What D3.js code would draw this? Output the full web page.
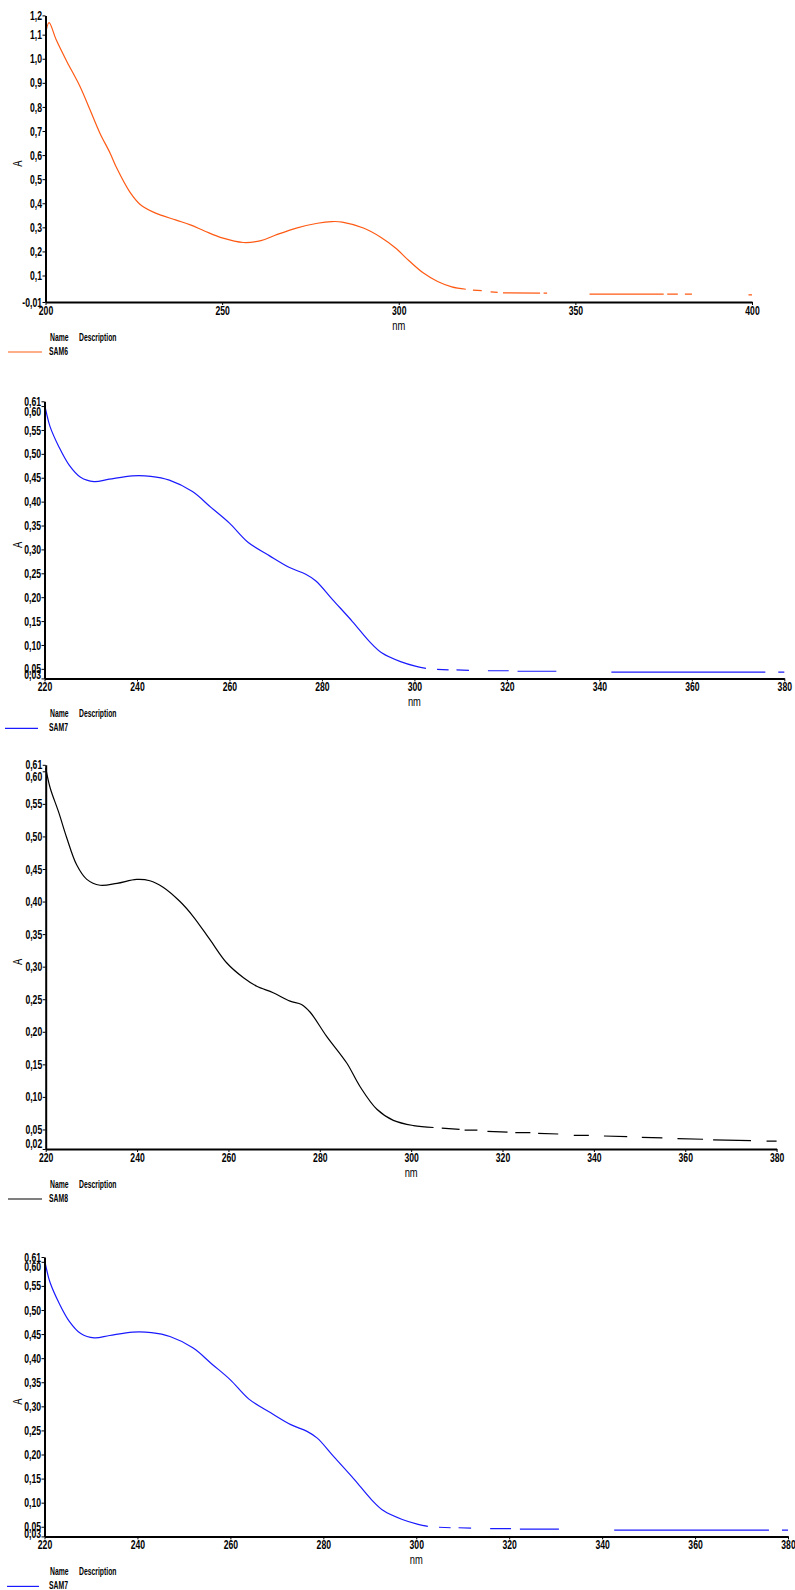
<!DOCTYPE html>
<html>
<head>
<meta charset="utf-8">
<script src="https://cdn.jsdelivr.net/npm/d3@7"></script>
<style>
  html, body { margin: 0; padding: 0; background: #fff; }
  svg { display: block; }
  text { font-family: 'Liberation Sans', Arial, sans-serif; fill: #000; }
</style>
</head>
<body>
<svg id="chart" width="795" height="1590"></svg>
<script>
// ---------- DATA ----------
// SAM6 (orange) wavelength (nm) and absorbance (A); null = gap in the trace
const sam6Nm = [200, 201, 203, 206, 209.8, 212.6, 215.4, 218.3, 220.2, 223.9, 226.8, 231, 237, 241, 245, 250, 256, 261, 265, 271, 277, 281, 284, 290, 295, 299, 303, 307, 311, 315, 319,
  320, 321, 323.5, 325, 326, 328, 329, 329.5, 340, 340.5, 341, 342, 348, 354, 375, 375.5, 376, 379, 380, 381, 383, 390, 399, 400];
const sam6A = [1.10, 1.15, 1.08, 0.99, 0.884, 0.788, 0.691, 0.608, 0.545, 0.446, 0.395, 0.36, 0.33, 0.31, 0.285, 0.256, 0.237, 0.245, 0.267, 0.297, 0.317, 0.324, 0.322, 0.297, 0.258, 0.215, 0.160, 0.110, 0.075, 0.053, 0.043,
  null, 0.039, 0.037, null, 0.032, 0.030, null, 0.028, 0.027, null, 0.027, 0.027, null, 0.023, 0.023, null, 0.023, 0.023, null, 0.023, 0.023, null, 0.020, 0.020];

// SAM7 (blue)
const sam7Nm = [220, 220.5, 221.2, 223.1, 225.3, 227.8, 230.7, 234, 239, 243, 247, 252, 256, 260, 264, 268.6, 273, 276.5, 278.7, 282.3, 286.6, 290.3, 293, 297, 300.4, 302.5,
  303.5, 304.9, 307.4, 308, 309.1, 311.8, 314, 315.9, 320.4, 321.5, 322.3, 330.7, 336, 342.6, 375.9, 377, 378.7, 380];
const sam7A = [0.605, 0.582, 0.557, 0.515, 0.477, 0.451, 0.442, 0.447, 0.454, 0.453, 0.445, 0.421, 0.388, 0.355, 0.315, 0.287, 0.262, 0.248, 0.234, 0.195, 0.149, 0.107, 0.083, 0.065, 0.055, 0.051,
  null, 0.049, 0.048, null, 0.048, 0.047, null, 0.046, 0.046, null, 0.045, 0.045, null, 0.043, 0.043, null, 0.043, 0.043];

// SAM8 (black)
const sam8Nm = [220, 221, 222.8, 224.6, 226.8, 229, 231.9, 235.6, 239.9, 242.8, 245.7, 249.4, 252.3, 256, 259.6, 263.3, 266.2, 269.8, 273.5, 276, 277.9, 281.5, 285.9, 288.8, 292.5, 296.1, 300.5, 304.9,
  306.2, 306.7, 310.6, 311.2, 311.7, 314.5, 315.5, 316.7, 321.1, 322, 322.8, 326.1, 327, 327.8, 332.2, 334, 335.6, 338.9, 340.5, 342.2, 347.3, 349, 350.5, 355, 356.5, 358.3, 363.9, 365, 366.1, 374.4, 376, 377.8, 380];
const sam8A = [0.605, 0.574, 0.538, 0.498, 0.456, 0.434, 0.425, 0.428, 0.434, 0.432, 0.422, 0.400, 0.377, 0.341, 0.306, 0.283, 0.270, 0.260, 0.247, 0.242, 0.230, 0.193, 0.152, 0.116, 0.081, 0.064, 0.056, 0.053,
  null, 0.052, 0.050, null, 0.049, 0.049, null, 0.047, 0.046, null, 0.045, 0.045, null, 0.044, 0.043, null, 0.041, 0.041, null, 0.040, 0.039, null, 0.038, 0.037, null, 0.036, 0.035, null, 0.034, 0.033, null, 0.032, 0.032];

// Tick values and labels
const xTicksA = [200, 250, 300, 350, 400];
const xTicksB = [220, 240, 260, 280, 300, 320, 340, 360, 380];
const yTicksA = [-0.01, 0.1, 0.2, 0.3, 0.4, 0.5, 0.6, 0.7, 0.8, 0.9, 1.0, 1.1, 1.18];
const yLabelsA = ["-0,01", "0,1", "0,2", "0,3", "0,4", "0,5", "0,6", "0,7", "0,8", "0,9", "1,0", "1,1", "1,2"];
const yTicksB = [0.03, 0.05, 0.10, 0.15, 0.20, 0.25, 0.30, 0.35, 0.40, 0.45, 0.50, 0.55, 0.60, 0.61];
const yLabelsB = ["0,03", "0,05", "0,10", "0,15", "0,20", "0,25", "0,30", "0,35", "0,40", "0,45", "0,50", "0,55", "0,60", "0,61"];
const yTicksC = [0.02, 0.05, 0.10, 0.15, 0.20, 0.25, 0.30, 0.35, 0.40, 0.45, 0.50, 0.55, 0.60, 0.61];
const yLabelsC = ["0,02", "0,05", "0,10", "0,15", "0,20", "0,25", "0,30", "0,35", "0,40", "0,45", "0,50", "0,55", "0,60", "0,61"];

// ---------- LAYOUT ----------
const panels = [
  { nm: sam6Nm, a: sam6A, name: "SAM6", color: "#ff5a14", xDomain: [200, 400], xTicks: xTicksA,
    yDomain: [-0.01, 1.18], yTicks: yTicksA, yLabels: yLabelsA,
    left: 45.5, right: 752, top: 15.4, bottom: 302, nudgeTop2: 0, nudgeBottom: 0, legendX0: 8, legendX1: 42 },
  { nm: sam7Nm, a: sam7A, name: "SAM7", color: "#1a1aff", xDomain: [220, 380], xTicks: xTicksB,
    yDomain: [0.03, 0.61], yTicks: yTicksB, yLabels: yLabelsB,
    left: 44.5, right: 784.3, top: 401.3, bottom: 678.4, nudgeTop2: 5, nudgeBottom: -4, legendX0: 5, legendX1: 38 },
  { nm: sam8Nm, a: sam8A, name: "SAM8", color: "#000000", xDomain: [220, 380], xTicks: xTicksB,
    yDomain: [0.02, 0.61], yTicks: yTicksC, yLabels: yLabelsC,
    left: 45.7, right: 776.6, top: 764.8, bottom: 1149, nudgeTop2: 5, nudgeBottom: -6, legendX0: 8, legendX1: 42 },
  { nm: sam7Nm, a: sam7A, name: "SAM7", color: "#1a1aff", xDomain: [220, 380], xTicks: xTicksB,
    yDomain: [0.03, 0.61], yTicks: yTicksB, yLabels: yLabelsB,
    left: 44.5, right: 788, top: 1257, bottom: 1536.4, nudgeTop2: 5, nudgeBottom: -3, legendX0: 7, legendX1: 39 }
];

const svg = d3.select("#chart");
const fs = 12;        // tick font size
const sq = 0.72;      // horizontal squeeze for the narrow instrument font
const sqLeg = 0.62;   // squeeze for the legend font

function squeeze(sel, k) {
  // scale text horizontally around its anchor x position
  sel.each(function () {
    const t = d3.select(this);
    const xv = +t.attr("x") || 0;
    t.attr("transform", `translate(${xv * (1 - k)},0) scale(${k},1)`);
  });
}

panels.forEach(p => {
  const g = svg.append("g");
  const x = d3.scaleLinear().domain(p.xDomain).range([p.left, p.right]);
  const y = d3.scaleLinear().domain(p.yDomain).range([p.bottom, p.top]);

  // curve
  const pts = p.nm.map((d, i) => ({ nm: d, a: p.a[i] }));
  const line = d3.line().defined(d => d.a !== null).x(d => x(d.nm)).y(d => y(d.a)).curve(d3.curveCatmullRom.alpha(0.5));
  g.append("path").datum(pts).attr("d", line)
    .attr("fill", "none").attr("stroke", p.color).attr("stroke-width", 1.2);

  // y axis
  const ya = g.append("g").attr("transform", `translate(${p.left},0)`)
    .call(d3.axisLeft(y).tickValues(p.yTicks).tickFormat((d, i) => p.yLabels[i]).tickSize(3).tickSizeOuter(0));
  ya.select(".domain").attr("stroke", "#000").attr("stroke-width", 2);
  ya.selectAll(".tick line").attr("stroke", "#000").attr("stroke-width", 1);
  ya.selectAll(".tick text").attr("font-size", fs).attr("font-weight", "bold").attr("x", -3.5)
    .attr("dy", (d, i) => {
      const n = p.yTicks.length;
      let off = 0;
      if (i === n - 2) off = p.nudgeTop2;
      if (i === 0) off = p.nudgeBottom;
      return (0.34 * fs + off) + "px";
    })
    .call(squeeze, sq);

  // x axis
  const xa = g.append("g").attr("transform", `translate(0,${p.bottom})`)
    .call(d3.axisBottom(x).tickValues(p.xTicks).tickFormat(d3.format("d")).tickSize(3).tickSizeOuter(0));
  xa.select(".domain").attr("stroke", "#000").attr("stroke-width", 2);
  xa.selectAll(".tick line").attr("stroke", "#000").attr("stroke-width", 1);
  xa.selectAll(".tick text").attr("font-size", fs).attr("font-weight", "bold").attr("y", 4).attr("dy", "0.71em").call(squeeze, sq);

  // axis titles
  g.append("text").attr("transform", `translate(${17},${(p.top + p.bottom) / 2 + 5}) rotate(-90) scale(${sq},1)`)
    .attr("text-anchor", "middle").attr("dominant-baseline", "central").attr("font-size", 13).text("A");
  g.append("text").attr("x", (p.left + p.right) / 2).attr("y", p.bottom + 23)
    .attr("text-anchor", "middle").attr("dominant-baseline", "central").attr("font-size", 13).text("nm")
    .call(squeeze, sq);

  // legend
  g.append("text").attr("x", 50).attr("y", p.bottom + 35).attr("dominant-baseline", "central")
    .attr("font-size", 11).attr("font-weight", "bold").text("Name").call(squeeze, sqLeg);
  g.append("text").attr("x", 79).attr("y", p.bottom + 35).attr("dominant-baseline", "central")
    .attr("font-size", 11).attr("font-weight", "bold").text("Description").call(squeeze, sqLeg);
  g.append("line").attr("x1", p.legendX0).attr("x2", p.legendX1)
    .attr("y1", p.bottom + 50).attr("y2", p.bottom + 50)
    .attr("stroke", p.color).attr("stroke-width", 1.2);
  g.append("text").attr("x", 49).attr("y", p.bottom + 49).attr("dominant-baseline", "central")
    .attr("font-size", 11).attr("font-weight", "bold").text(p.name).call(squeeze, sqLeg);
});
</script>
</body>
</html>
